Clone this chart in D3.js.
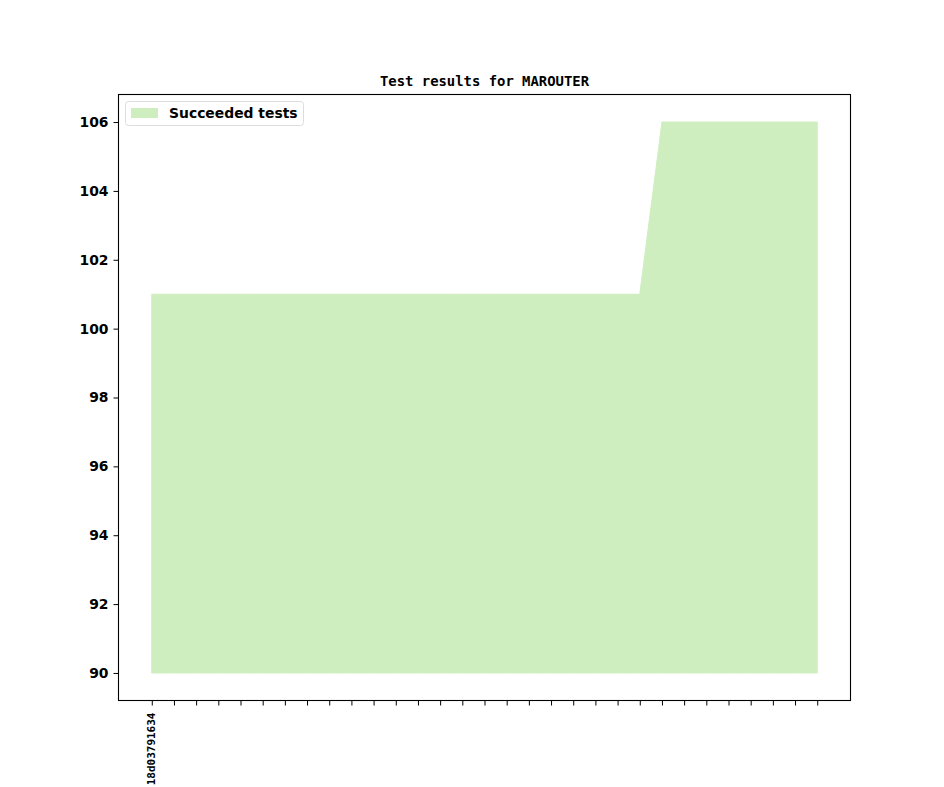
<!DOCTYPE html>
<html>
<head>
<meta charset="utf-8">
<script src="https://cdn.jsdelivr.net/npm/d3@7"></script>
<style>
  body { margin: 0; background: #fff; }
  svg { display: block; }
</style>
</head>
<body>
<svg id="chart" width="944" height="787"></svg>
<script>
// Commits on the x axis (only the first one carries a label)
const commitLabels = ["18d03791634"].concat(Array(30).fill(""));
// Succeeded tests per commit
const succeeded = [101, 101, 101, 101, 101, 101, 101, 101, 101, 101,
                   101, 101, 101, 101, 101, 101, 101, 101, 101, 101,
                   101, 101, 101, 106, 106, 106, 106, 106, 106, 106, 106];
const yTicks = [90, 92, 94, 96, 98, 100, 102, 104, 106];
const baseline = 90;

const svg = d3.select("#chart");
const plotLeft = 118.5, plotRight = 850.5, plotTop = 94.5, plotBottom = 700.5;

const x = d3.scaleLinear().domain([-1.5, 31.5]).range([plotLeft, plotRight]);
const y = d3.scaleLinear().domain([89.2, 106.8]).range([plotBottom, plotTop]);

// filled area
svg.append("path")
    .datum(succeeded)
    .attr("fill", "#cfeebf")
    .attr("stroke", "#cfeebf")
    .attr("stroke-width", 1)
    .attr("d", d3.area()
        .x((d, i) => x(i))
        .y0(y(baseline))
        .y1(d => y(d)));

// frame
svg.append("rect")
    .attr("x", plotLeft).attr("y", plotTop)
    .attr("width", plotRight - plotLeft).attr("height", plotBottom - plotTop)
    .attr("fill", "none").attr("stroke", "#000").attr("stroke-width", 1.1);

// y axis
const yAxis = d3.axisLeft(y).tickValues(yTicks).tickSize(5).tickPadding(5);
svg.append("g")
    .attr("transform", `translate(${plotLeft},0)`)
    .call(yAxis)
    .call(g => g.select(".domain").remove())
    .call(g => g.selectAll("line").attr("stroke", "#000").attr("stroke-width", 1))
    .call(g => g.selectAll("text")
        .attr("font-family", "'DejaVu Sans', sans-serif")
        .attr("font-weight", "bold")
        .attr("font-size", "13.9px")
        .attr("fill", "#000"));

// x axis
const xAxis = d3.axisBottom(x)
    .tickValues(d3.range(commitLabels.length))
    .tickFormat(i => commitLabels[i])
    .tickSize(5);
svg.append("g")
    .attr("transform", `translate(0,${plotBottom})`)
    .call(xAxis)
    .call(g => g.select(".domain").remove())
    .call(g => g.selectAll("line").attr("stroke", "#000").attr("stroke-width", 1))
    .call(g => g.selectAll("text")
        .attr("font-family", "'DejaVu Sans Mono', monospace")
        .attr("font-weight", "bold")
        .attr("font-size", "11px")
        .attr("fill", "#000")
        .attr("text-anchor", "end")
        .attr("dy", "0.3em")
        .attr("transform", "translate(-1,12) rotate(-90)")
        .attr("x", 0).attr("y", 0));

// title
svg.append("text")
    .attr("x", (plotLeft + plotRight) / 2)
    .attr("y", 86)
    .attr("text-anchor", "middle")
    .attr("font-family", "'DejaVu Sans Mono', monospace")
    .attr("font-weight", "bold")
    .attr("font-size", "13.9px")
    .text("Test results for MAROUTER");

// legend
const legend = svg.append("g");
legend.append("rect")
    .attr("x", 125.5).attr("y", 101.5)
    .attr("width", 178).attr("height", 24)
    .attr("rx", 3)
    .attr("fill", "#fff").attr("fill-opacity", 0.8)
    .attr("stroke", "#ddd");
legend.append("rect")
    .attr("x", 131).attr("y", 108)
    .attr("width", 27).attr("height", 10)
    .attr("fill", "#cfeebf");
legend.append("text")
    .attr("x", 169).attr("y", 118)
    .attr("font-family", "'DejaVu Sans', sans-serif")
    .attr("font-weight", "bold")
    .attr("font-size", "13.9px")
    .text("Succeeded tests");
</script>
</body>
</html>
